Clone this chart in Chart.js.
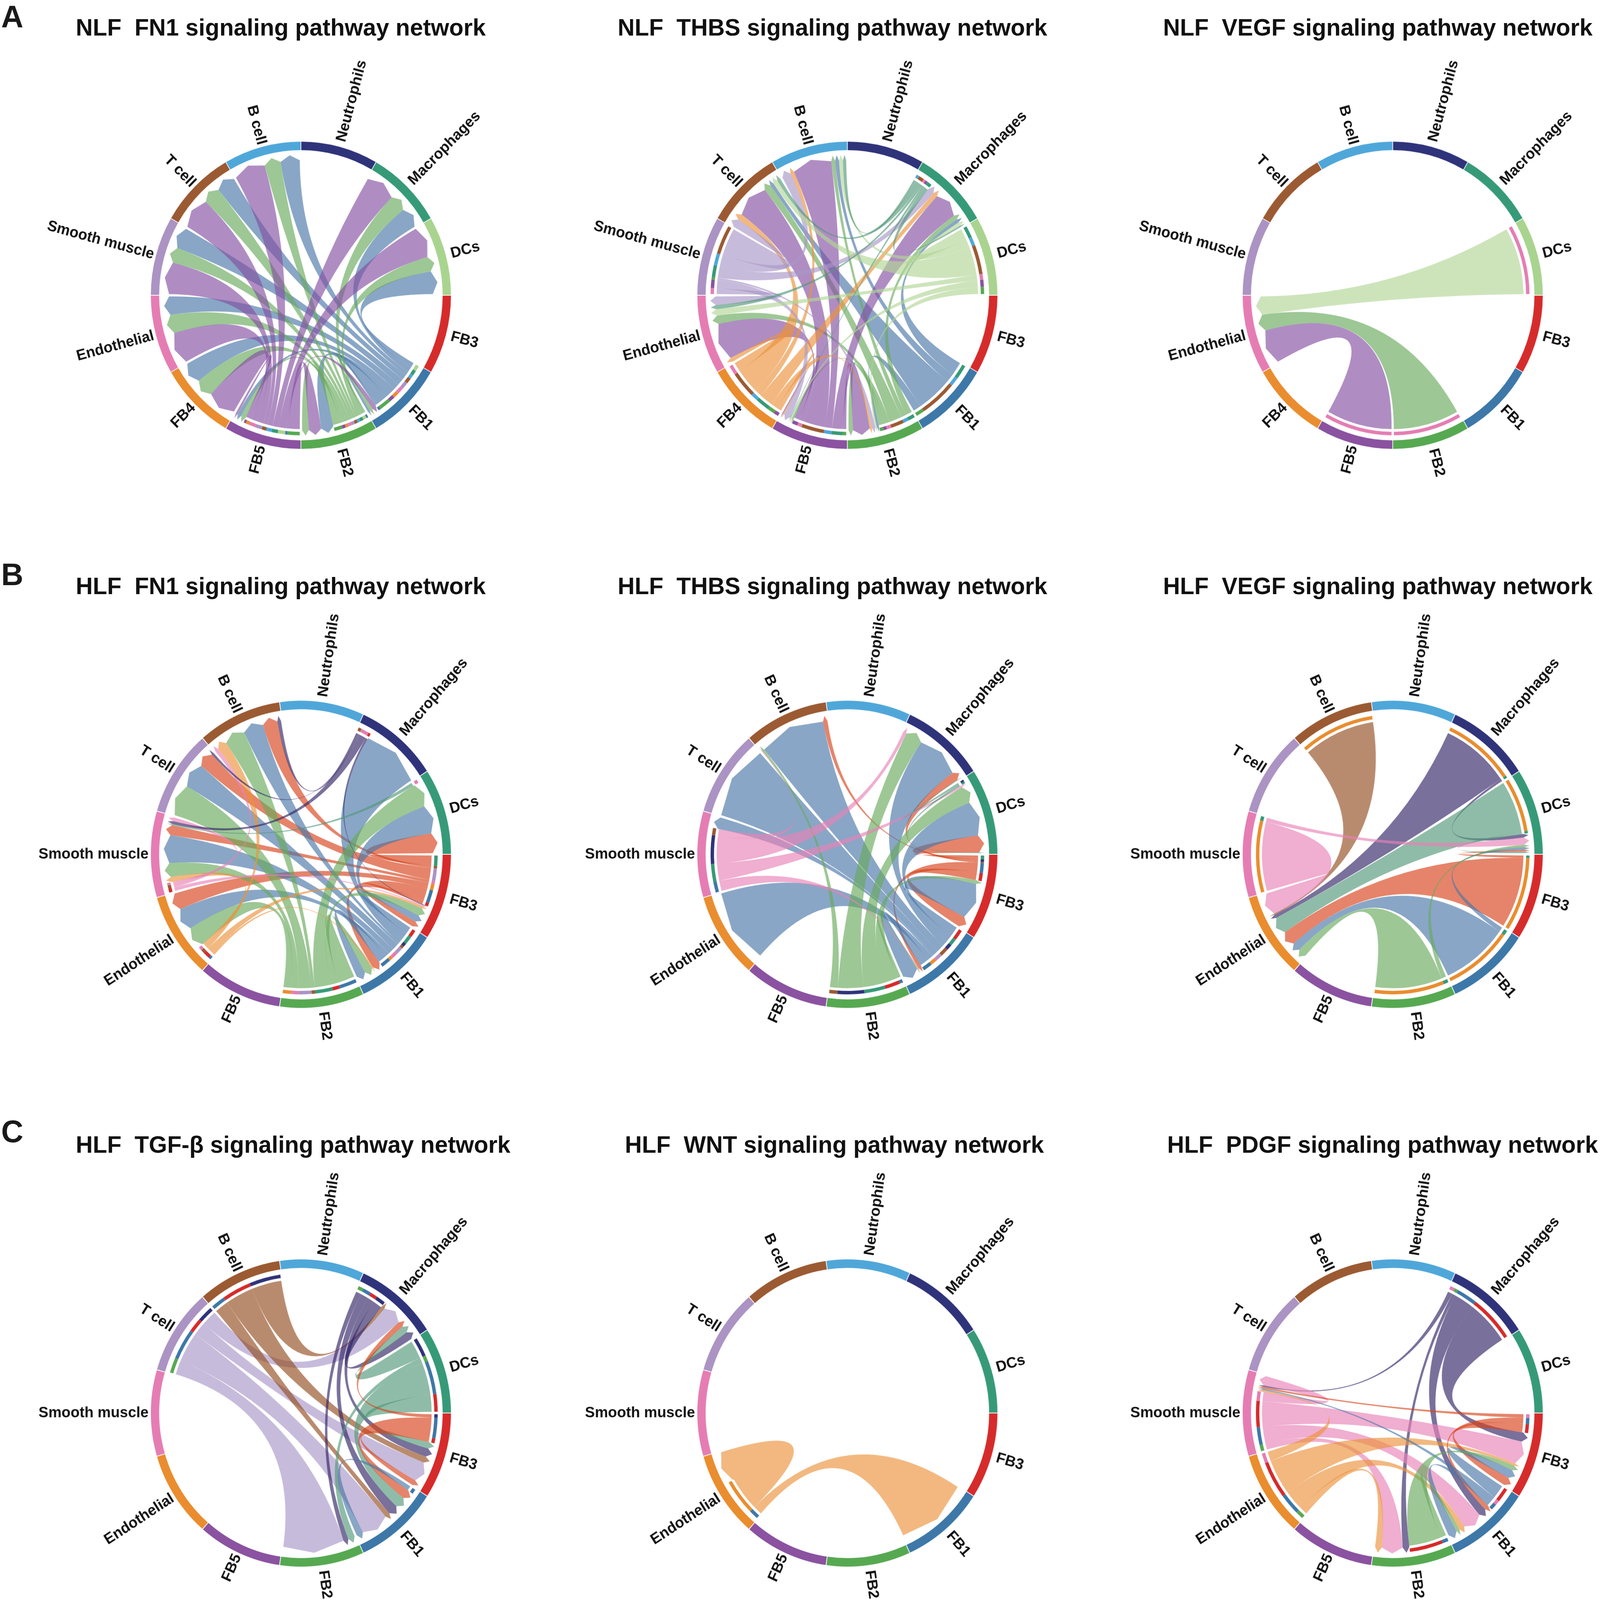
<!DOCTYPE html>
<html>
<head>
<meta charset="utf-8">
<title>Signaling pathway networks</title>
<script src="https://cdn.jsdelivr.net/npm/chart.js@4"></script>
<style>
  html, body { margin: 0; padding: 0; background: #fff; }
  html { overflow: hidden; }
  body { position: relative; width: 4222px; height: 4124px; overflow: hidden; font-family: "Liberation Sans", Arial, sans-serif; transform-origin: 0 0; }
  canvas { position: absolute; }
  .title { position: absolute; font-size: 62px; font-weight: bold; color: #111; white-space: pre; line-height: 80px; z-index: 2; }
  .letter { position: absolute; font-size: 81px; font-weight: bold; color: #1a1a1a; line-height: 90px; z-index: 2; }
</style>
</head>
<body>
<script>
// 섹터 이름 (3시 방향부터 시계 방향)
const sectorsWithFB4 = ['FB3', 'FB1', 'FB2', 'FB5', 'FB4', 'Endo', 'SM', 'T', 'B', 'Neu', 'Mac', 'DC'];
const sectorsNoFB4 = ['FB3', 'FB1', 'FB2', 'FB5', 'Endo', 'SM', 'T', 'B', 'Neu', 'Mac', 'DC'];
const sectorLabels = {
  FB3: 'FB3', FB1: 'FB1', FB2: 'FB2', FB5: 'FB5', FB4: 'FB4', Endo: 'Endothelial',
  SM: 'Smooth muscle', T: 'T cell', B: 'B cell', Neu: 'Neutrophils', Mac: 'Macrophages', DC: 'DCs'
};

// 링크: [보내는 섹터, 받는 섹터, 보내는 쪽 폭, 받는 쪽 폭]
const nlfFn1Links = [
  ['FB1','DC',2.5,10],['FB1','Mac',2.3,9],['FB1','B',1.8,8.5],['FB1','T',2.5,8.2],['FB1','SM',3,9],
  ['FB1','Endo',3,8],['FB1','FB4',2.5,9],['FB1','FB5',2.5,1.8],['FB1','FB2',5.5,5.5],['FB1','FB1',1,1],
  ['FB2','FB1',0.8,1.5],['FB2','DC',1.5,6.5],['FB2','Mac',1.5,7.6],['FB2','B',1.2,7.2],['FB2','T',1.3,7.5],
  ['FB2','SM',1.5,6.5],['FB2','Endo',1.5,8],['FB2','FB4',1.2,8],['FB2','FB5',1.5,2.2],['FB2','FB2',3.5,3],
  ['FB5','FB2',5.5,5.5],['FB5','FB1',1,2],['FB5','DC',3.3,13.5],['FB5','Mac',2.8,13.4],['FB5','B',2.5,13.8],
  ['FB5','T',2,13.3],['FB5','SM',3,13.5],['FB5','Endo',3,13.5],['FB5','FB4',1.5,12.8],['FB5','FB5',1,1]
];
const nlfThbsLinks = [
  ['FB1','Mac',6,1.5],['FB1','B',3.7,1.5],['FB1','T',16,1.5],['FB1','FB2',3.5,1],
  ['FB2','Mac',3,2],['FB2','B',2.3,1.5],['FB2','T',5.7,3],['FB2','Endo',2,4],['FB2','FB5',1.4,0.8],['FB2','FB2',1.6,2],
  ['FB5','FB2',1.5,7.5],['FB5','Mac',5,11],['FB5','B',3.4,15],['FB5','T',10,14],['FB5','Endo',2,17],['FB5','FB5',2.5,0.5],
  ['FB4','FB5',2,0.5],['FB4','FB2',3,1],['FB4','Mac',6,2],['FB4','B',3,1.5],['FB4','T',11,2.5],['FB4','Endo',4,2],
  ['SM','Endo',2.5,4],['SM','FB5',3.5,3],['SM','FB2',1,1.5],['SM','Mac',5,2.8],['SM','B',5,3.5],['SM','T',12,3.5],
  ['DC','Mac',5,1.5],['DC','B',3.6,1.5],['DC','T',12.4,2],['DC','Endo',2.4,3],['DC','FB5',3,0.7],['DC','FB2',3,0.7],
  ['Mac','B',1.2,1.3],['Mac','T',2.2,1.5],['Mac','Endo',1,2],['Mac','FB5',1,0.3],['Mac','Mac',2,0.6]
];
const nlfVegfLinks = [
  ['DC','Endo',29,8],['FB2','Endo',29,7],['FB5','Endo',29,14.8]
];
const hlfFn1Links = [
  ['FB3','DC',4.5,8.5],['FB3','B',1,6],['FB3','T',5.4,6.5],['FB3','SM',1.4,4],['FB3','Endo',2.7,7.3],['FB3','FB1',5.6,3.5],['FB3','FB3',1.5,2.5],
  ['FB1','FB3',3,3],['FB1','DC',3.5,12],['FB1','Mac',1.5,27],['FB1','B',1,8.2],['FB1','T',3,10.5],['FB1','SM',2.5,11],['FB1','Endo',1.5,9.6],['FB1','FB1',4,4],
  ['FB2','FB1',7.5,3.5],['FB2','FB3',3,3.5],['FB2','DC',7.5,10],['FB2','B',1.5,8.4],['FB2','T',5.6,13],['FB2','SM',3,5.5],['FB2','Endo',3.6,8.8],
  ['Endo','FB1',1,0.5],['Endo','FB3',3,1],['Endo','B',1.5,4],['Endo','SM',1.5,2],
  ['SM','FB3',1.5,0.5],['SM','B',1.3,1.5],['SM','SM',0.9,1.5],
  ['Mac','B',1.3,1.5],['Mac','T',0.3,1],['Mac','SM',3.2,1.2],['Mac','FB3',1,0.3],
  ['DC','SM',1.5,0.4]
];
const hlfThbsLinks = [
  ['FB3','DC',1.5,7],['FB3','Mac',1,3.6],['FB3','B',0.5,2],['FB3','FB1',4,1.5],['FB3','FB3',3.3,4.5],
  ['FB1','FB3',4.5,14.5],['FB1','DC',3,14],['FB1','Mac',2.5,19],['FB1','B',3.5,29],['FB1','T',2.5,30],['FB1','SM',0.8,5],['FB1','Endo',2.5,30],['FB1','FB1',4,7],
  ['FB2','FB1',1.5,0.5],['FB2','FB3',6.5,1.5],['FB2','DC',9,7],['FB2','Mac',11.5,7.5],['FB2','B',3.5,1],
  ['SM','FB1',4.5,0.3],['SM','DC',7.5,0.8],['SM','Mac',12,1.5],['SM','B',3,0.3],
  ['DC','Mac',0.8,0.3],['DC','DC',0.8,0.3]
];
const hlfVegfLinks = [
  ['B','Endo',31,0.5],['Mac','Endo',30,1.5],['Mac','DC',1,1.5],['DC','Endo',22,7],['DC','DC',1,0.7],
  ['FB3','DC',1,0.8],['FB3','Endo',29,6],['FB1','DC',2,1],['FB1','Endo',28,3.5],
  ['FB2','DC',2,1],['FB2','Endo',29,3.6],['SM','Endo',25,9],['SM','DC',1.5,3]
];
const hlfTgfbLinks = [
  ['T','FB2',6.4,24],['T','FB1',13.2,12],['T','FB3',6,8.4],['T','Mac',6.7,8.5],
  ['B','FB1',6,2.2],['B','FB3',12.4,2.7],['B','Mac',13.3,1.5],
  ['Mac','FB2',2.3,2],['Mac','FB1',3.5,4.3],['Mac','FB3',3,3.6],['Mac','Mac',4,3.5],
  ['DC','Mac',8,3],['DC','FB2',2.5,2.7],['DC','FB1',14,4.7],['DC','FB3',7.5,2.7],
  ['FB3','Mac',1.5,2.5],['FB3','FB1',8.5,3.8],['FB3','FB3',2,2.3],
  ['FB1','FB1',2,3]
];
const hlfWntLinks = [
  ['Endo','FB1',4,32],['Endo','Endo',15,13]
];
const hlfPdgfLinks = [
  ['Mac','SM',2,0.6],['Mac','FB2',1.5,3],['Mac','FB1',8.7,3.5],['Mac','FB3',19.3,3.8],
  ['SM','FB2',2.6,9.3],['SM','FB1',7.3,8.5],['SM','FB3',10.8,9.3],['SM','SM',3.9,4],
  ['Endo','FB2',3.4,3],['Endo','FB1',9,2.5],['Endo','FB3',15.8,1],['Endo','SM',4.2,0.8],
  ['FB3','SM',1.5,0.8],['FB3','FB1',2.5,2],['FB3','FB3',3.5,3.4],
  ['FB1','FB3',6,3.5],['FB1','SM',2,0.6],['FB1','FB1',2.6,4],
  ['FB2','FB1',2.7,1.5],['FB2','FB3',14.5,2]
];

const panelTitles = [
  'NLF  FN1 signaling pathway network', 'NLF  THBS signaling pathway network', 'NLF  VEGF signaling pathway network',
  'HLF  FN1 signaling pathway network', 'HLF  THBS signaling pathway network', 'HLF  VEGF signaling pathway network',
  'HLF  TGF-β signaling pathway network', 'HLF  WNT signaling pathway network', 'HLF  PDGF signaling pathway network'
];
const panelLinks = [nlfFn1Links, nlfThbsLinks, nlfVegfLinks, hlfFn1Links, hlfThbsLinks, hlfVegfLinks, hlfTgfbLinks, hlfWntLinks, hlfPdgfLinks];
const panelSectors = [sectorsWithFB4, sectorsWithFB4, sectorsWithFB4, sectorsNoFB4, sectorsNoFB4, sectorsNoFB4, sectorsNoFB4, sectorsNoFB4, sectorsNoFB4];

// 색상 (섹터 순서대로 배정)
const ringColors = ['#D62B2B', '#3D78A8', '#56A951', '#8A52A0', '#E98D2F', '#E57DB3', '#AB93C3', '#9B5A32', '#4FA7D9', '#2F337A', '#369A78', '#A9D48F'];
const chordColors = ['rgba(215,66,26,.65)', 'rgba(73,118,167,.65)', 'rgba(104,169,92,.65)', 'rgba(132,80,161,.65)',
  'rgba(235,146,60,.65)', 'rgba(232,130,183,.65)', 'rgba(169,150,200,.65)', 'rgba(147,77,32,.65)',
  'rgba(79,166,216,.65)', 'rgba(49,35,101,.65)', 'rgba(83,152,121,.65)', 'rgba(178,213,150,.65)'];

// 화면 배치
const panelCenterX = [794, 2236, 3675];
const panelCenterY = [761, 2202, 3642];
const titleX = [200, 1630, 3069, 200, 1630, 3069, 200, 1649, 3080];
const titleY = [71, 1510, 2950];
const letters = [['A', 42], ['B', 1480], ['C', 2916]];
const PAGE_W = 4222, PAGE_H = 4124;
const CANVAS_W = 1440, CANVAS_H = 1240;
const GAP_MARGIN = 0.5;
const LABEL_R_RIGHT = 410, LABEL_R_LEFT = 402;

// 창 크기에 페이지 맞추기
document.body.style.transform = 'scale(' + (window.innerWidth / PAGE_W) + ',' + (window.innerHeight / PAGE_H) + ')';

// 각 섹터 안에서 링크 위치 계산 - 나가는 링크 먼저, 들어오는 링크 나중
const layoutLinks = (sectors, links) => {
  const n = sectors.length;
  const span = 360 / n;
  const rows = links.map(l => ({ from: sectors.indexOf(l[0]), to: sectors.indexOf(l[1]), outW: l[2], inW: l[3] }));
  const pieces = [], colors = [];
  sectors.forEach((_, i) => {
    const rank = j => j === i ? n : (i - j + n) % n;
    const outs = rows.filter(r => r.from === i).sort((a, b) => rank(a.to) - rank(b.to));
    const ins = rows.filter(r => r.to === i).sort((a, b) => rank(a.from) - rank(b.from));
    const total = outs.reduce((s, r) => s + r.outW, 0) + ins.reduce((s, r) => s + r.inW, 0);
    const k = total > 0 ? (span - 2 * GAP_MARGIN) / total : 0;
    let angle = i * span + GAP_MARGIN;
    pieces.push(GAP_MARGIN); colors.push('transparent');
    outs.forEach(r => {
      r.a0 = angle; angle += r.outW * k; r.a1 = angle;
      pieces.push(r.a1 - r.a0); colors.push(ringColors[r.to]);
    });
    pieces.push((i + 1) * span - angle); colors.push('transparent');
    ins.forEach(r => { r.b0 = angle; angle += r.inW * k; r.b1 = angle; });
  });
  return { rows, pieces, colors };
};

const deg = a => a * Math.PI / 180;

// 리본(코드)과 라벨을 그리는 플러그인
const chordPlugin = {
  id: 'chord',
  beforeDatasetsDraw(chart, args, opts) {
    const arc = chart.getDatasetMeta(2).data[0];
    const { x: cx, y: cy, innerRadius } = arc;
    const rBase = innerRadius - 7, rEdge = innerRadius - 4, rTip = innerRadius + 10;
    const ctx = chart.ctx;
    const pt = (a, r) => [cx + r * Math.cos(deg(a)), cy + r * Math.sin(deg(a))];
    opts.rows.forEach(r => {
      const e0 = pt(r.b0, rEdge), tip = pt((r.b0 + r.b1) / 2, rTip), e1 = pt(r.b1, rEdge), s0 = pt(r.a0, rBase);
      ctx.beginPath();
      ctx.arc(cx, cy, rBase, deg(r.a0), deg(r.a1));
      ctx.quadraticCurveTo(cx, cy, e0[0], e0[1]);
      ctx.lineTo(tip[0], tip[1]);
      ctx.lineTo(e1[0], e1[1]);
      ctx.quadraticCurveTo(cx, cy, s0[0], s0[1]);
      ctx.closePath();
      ctx.fillStyle = chordColors[r.from];
      ctx.fill();
    });
  },
  afterDatasetsDraw(chart) {
    const arcs = chart.getDatasetMeta(0).data;
    const ctx = chart.ctx;
    ctx.save();
    ctx.font = 'bold 39px "Liberation Sans", Arial, sans-serif';
    ctx.fillStyle = '#111';
    ctx.textBaseline = 'middle';
    arcs.forEach((a, i) => {
      const mid = (a.startAngle + a.endAngle) / 2;
      const rightSide = Math.cos(mid) >= 0;
      ctx.save();
      ctx.translate(a.x, a.y);
      ctx.rotate(rightSide ? mid : mid + Math.PI);
      ctx.textAlign = rightSide ? 'left' : 'right';
      ctx.fillText(chart.data.labels[i], rightSide ? LABEL_R_RIGHT : -LABEL_R_LEFT, 0);
      ctx.restore();
    });
    ctx.restore();
  }
};

// 패널 9개 생성
panelTitles.forEach((title, p) => {
  const sectors = panelSectors[p];
  const layout = layoutLinks(sectors, panelLinks[p]);
  const col = p % 3, row = Math.floor(p / 3);

  const titleEl = document.createElement('div');
  titleEl.className = 'title';
  titleEl.textContent = title;
  titleEl.style.left = titleX[p] + 'px';
  titleEl.style.top = (titleY[row] - 40) + 'px';
  document.body.appendChild(titleEl);

  const canvas = document.createElement('canvas');
  canvas.width = CANVAS_W;
  canvas.height = CANVAS_H;
  canvas.style.left = (panelCenterX[col] - CANVAS_W / 2) + 'px';
  canvas.style.top = (panelCenterY[row] - CANVAS_H / 2) + 'px';
  document.body.appendChild(canvas);

  new Chart(canvas, {
    type: 'doughnut',
    data: {
      labels: sectors.map(s => sectorLabels[s]),
      datasets: [
        { data: sectors.map(() => 1), backgroundColor: sectors.map((_, i) => ringColors[i]), borderWidth: 0, spacing: 7, weight: 22 },
        { data: [1], backgroundColor: ['transparent'], borderWidth: 0, weight: 9.5 },
        { data: layout.pieces, backgroundColor: layout.colors, borderWidth: 0, weight: 9 }
      ]
    },
    options: {
      responsive: false,
      devicePixelRatio: 1,
      animation: false,
      rotation: 90,
      radius: 392.5,
      cutout: '89.68%',
      events: [],
      layout: { padding: 0 },
      plugins: {
        legend: { display: false },
        tooltip: { enabled: false },
        chord: { rows: layout.rows }
      }
    },
    plugins: [chordPlugin]
  });
});

letters.forEach(([txt, y]) => {
  const el = document.createElement('div');
  el.className = 'letter';
  el.textContent = txt;
  el.style.left = '3px';
  el.style.top = (y - 45) + 'px';
  document.body.appendChild(el);
});
</script>
</body>
</html>
